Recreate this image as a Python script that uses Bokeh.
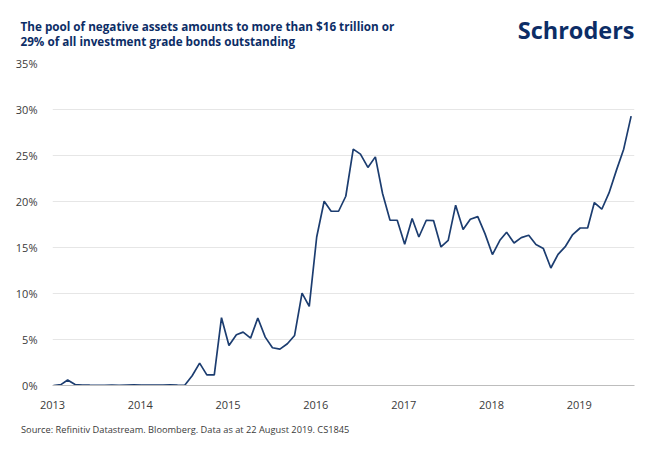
from datetime import datetime as dt

from bokeh.core.properties import value
from bokeh.layouts import column
from bokeh.models import (
    ColumnDataSource,
    FixedTicker,
    DatetimeTickFormatter,
    PrintfTickFormatter,
    Range1d,
)
from bokeh.plotting import figure
from bokeh.embed import file_html
from bokeh.resources import INLINE

# monthly share of investment grade bonds with negative yield (%), Jan 2013 - Aug 2019
months = [dt(2013 + m // 12, m % 12 + 1, 5) for m in range(80)]
neg_share = [
    0.0, 0.1, 0.6, 0.1, 0.05, 0.03, 0.02, 0.02, 0.03, 0.02, 0.05, 0.06,
    0.05, 0.04, 0.04, 0.05, 0.06, 0.03, 0.02, 1.06, 2.43, 1.16, 1.16, 7.37,
    4.35, 5.52, 5.80, 5.15, 7.33, 5.26, 4.10, 3.95, 4.54, 5.44, 10.05, 8.60,
    16.14, 20.03, 18.94, 18.94, 20.57, 25.69, 25.15, 23.70, 24.85, 20.87, 17.96, 17.96,
    15.35, 18.15, 16.14, 17.96, 17.93, 15.06, 15.78, 19.60, 16.95, 18.07, 18.36, 16.51,
    14.23, 15.78, 16.66, 15.49, 16.08, 16.33, 15.32, 14.88, 12.77, 14.26, 15.13, 16.41,
    17.12, 17.12, 19.89, 19.16, 20.93, 23.41, 25.69, 29.28,
]
year_ticks = [dt(y, 1, 1) for y in range(2013, 2020)]
pct_ticks = [0, 5, 10, 15, 20, 25, 30, 35]

title_lines = [
    "The pool of negative assets amounts to more than $16 trillion or",
    "29% of all investment grade bonds outstanding",
]
logo_text = "Schroders"
source_text = "Source: Refinitiv Datastream. Bloomberg. Data as at 22 August 2019. CS1845"

NAVY = "#0c2d66"
LINE = "#1c3d70"
TXT = "#3a3a3a"
FONT = "Open Sans"
W = 648


def text_strip(height):
    # a bare figure used as a canvas for header / footer texts (y grows downward)
    f = figure(width=W, height=height, output_backend="svg", toolbar_location=None,
               tools="", title_location=None, min_border=0,
               x_axis_location=None, y_axis_location=None,
               x_range=Range1d(0, W), y_range=Range1d(height, 0))
    f.grid.visible = False
    f.outline_line_color = None
    return f


# header: title and logo (y = vertical middle of each text line)
head = text_strip(55)
head.text(x=[20, 20], y=[25.8, 40.1], text=title_lines, text_font=value(FONT),
          text_font_size="11.7px", text_font_style="bold", text_color=NAVY,
          text_baseline="middle")
head.text(x=[634], y=[29.8], text=[logo_text], text_font=value(FONT),
          text_font_size="23.5px", text_font_style="bold", text_color=NAVY,
          text_align="right", text_baseline="middle")

# main chart
source = ColumnDataSource(data=dict(date=months, share=neg_share))
p = figure(width=W, height=360, x_axis_type="datetime",
           output_backend="svg", toolbar_location=None, tools="", title_location=None,
           min_border_left=52, min_border_right=14,
           min_border_top=8, min_border_bottom=30)
p.x_range = Range1d(dt(2013, 1, 1), dt(2019, 8, 19))
p.y_range = Range1d(0, 35)

p.line("date", "share", source=source, line_color=LINE, line_width=1.7)

p.outline_line_color = None
p.xgrid.grid_line_color = None
p.ygrid.ticker = FixedTicker(ticks=pct_ticks)
p.ygrid.grid_line_color = "#e6e6e6"
p.ygrid.grid_line_width = 1

p.xaxis.ticker = FixedTicker(ticks=[d.timestamp() * 1000 for d in year_ticks])
p.xaxis.formatter = DatetimeTickFormatter(years="%Y", months="%Y", days="%Y")
p.yaxis.ticker = FixedTicker(ticks=pct_ticks)
p.yaxis.formatter = PrintfTickFormatter(format="%d%%")

for ax in (p.xaxis, p.yaxis):
    ax.major_tick_line_color = None
    ax.minor_tick_line_color = None
    ax.major_label_text_font = FONT
    ax.major_label_text_font_size = "11px"
    ax.major_label_text_color = TXT
p.yaxis.axis_line_color = None
p.yaxis.major_label_standoff = 9
p.xaxis.axis_line_color = "#bdbdbd"
p.xaxis.major_label_standoff = 9

# footer: source note
foot = text_strip(31)
foot.text(x=[20.5], y=[14.4], text=[source_text], text_font=value(FONT),
          text_font_size="9.25px", text_color=TXT, text_baseline="middle")

# nested columns keep the header/footer frames from being aligned to the chart frame
page = column(column(head), p, column(foot), spacing=0)
open("out.html", "w").write(file_html(page, INLINE))
